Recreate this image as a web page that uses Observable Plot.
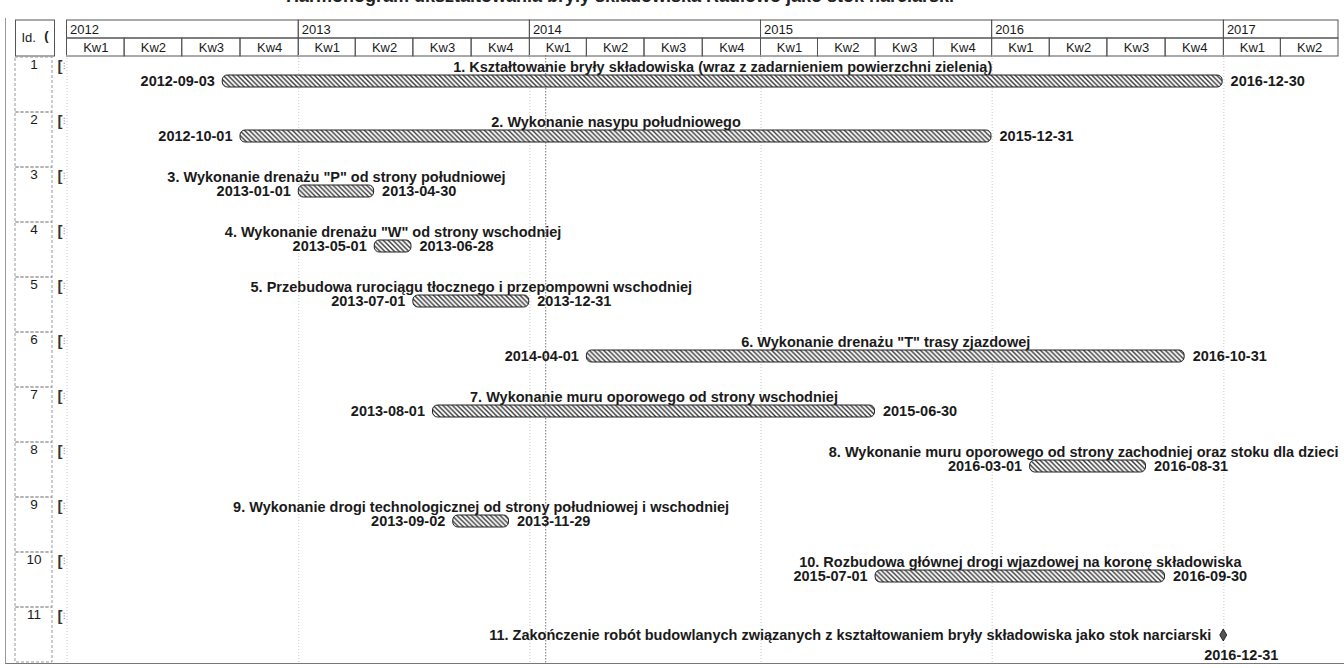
<!DOCTYPE html>
<html>
<head>
<meta charset="utf-8">
<script src="https://cdn.jsdelivr.net/npm/d3@7"></script>
<script src="https://cdn.jsdelivr.net/npm/@observablehq/plot@0.6"></script>
<style>
html,body{margin:0;padding:0;background:#fff;}
body{width:1344px;height:668px;overflow:hidden;position:relative;font-family:"Liberation Sans",Arial,sans-serif;}
#title{position:absolute;left:0;top:0;width:1344px;height:19px;overflow:hidden;}
#title span{position:absolute;left:0;width:1240px;text-align:center;top:-13px;font:bold 18px/18px "Liberation Sans",Arial,sans-serif;color:#222;white-space:nowrap;}
#frame{position:absolute;left:5px;top:18px;width:1339px;height:645px;border-left:1px solid #999;border-bottom:1px solid #777;box-sizing:content-box;}
.chart{position:absolute;}
</style>
</head>
<body>
<svg width="0" height="0" style="position:absolute">
  <defs>
    <pattern id="hatch" patternUnits="userSpaceOnUse" width="4.8" height="4.8">
      <rect width="4.8" height="4.8" fill="#fff"/>
      <path d="M-1.2,3.6 L1.2,6 M0,0 L4.8,4.8 M3.6,-1.2 L6,1.2" stroke="#333" stroke-width="1.4"/>
    </pattern>
  </defs>
</svg>
<div id="title"><span>Harmonogram ukształtowania bryły składowiska Radiowo jako stok narciarski</span></div>
<div id="frame"></div>
<div id="idHead" class="chart" style="left:0;top:19px"></div>
<div id="timeHead" class="chart" style="left:54px;top:19px"></div>
<div id="idBody" class="chart" style="left:0;top:55px"></div>
<div id="timeBody" class="chart" style="left:54px;top:55px"></div>
<script>
// ---------- data ----------
const taskIds = [1, 2, 3, 4, 5, 6, 7, 8, 9, 10];
const taskNames = [
  "1. Kształtowanie bryły składowiska (wraz z zadarnieniem powierzchni zielenią)",
  "2. Wykonanie nasypu południowego",
  "3. Wykonanie drenażu \"P\" od strony południowej",
  "4. Wykonanie drenażu \"W\" od strony wschodniej",
  "5. Przebudowa rurociągu tłocznego i przepompowni wschodniej",
  "6. Wykonanie drenażu \"T\" trasy zjazdowej",
  "7. Wykonanie muru oporowego od strony wschodniej",
  "8. Wykonanie muru oporowego od strony zachodniej oraz stoku dla dzieci",
  "9. Wykonanie drogi technologicznej od strony południowej i wschodniej",
  "10. Rozbudowa głównej drogi wjazdowej na koronę składowiska"
];
const taskStarts = ["2012-09-03", "2012-10-01", "2013-01-01", "2013-05-01", "2013-07-01",
                    "2014-04-01", "2013-08-01", "2016-03-01", "2013-09-02", "2015-07-01"];
const taskEnds   = ["2016-12-30", "2015-12-31", "2013-04-30", "2013-06-28", "2013-12-31",
                    "2016-10-31", "2015-06-30", "2016-08-31", "2013-11-29", "2016-09-30"];
const milestoneId = 11;
const milestoneName = "11. Zakończenie robót budowlanych związanych z kształtowaniem bryły składowiska jako stok narciarski";
const milestoneDate = "2016-12-31";
const rowIds = [1, 2, 3, 4, 5, 6, 7, 8, 9, 10, 11];
const years = [2012, 2013, 2014, 2015, 2016, 2017];
const quarterLabels = ["Kw1", "Kw2", "Kw3", "Kw4"];
const timelineStart = "2012-01-01";
const timelineEnd = "2017-07-01";
const statusDate = "2014-01-26";
const idHeader = "Id.";

// ---------- derived tables ----------
const parse = d3.utcParse("%Y-%m-%d");
const tEnd = parse(timelineEnd);
const tasks = taskIds.map((id, i) => ({
  id, name: taskNames[i],
  startLabel: taskStarts[i], endLabel: taskEnds[i],
  start: parse(taskStarts[i]), end: parse(taskEnds[i])
})).map(d => ({...d, mid: new Date((+d.start + +d.end) / 2)}));
const milestone = [{id: milestoneId, name: milestoneName, label: milestoneDate, date: parse(milestoneDate)}];
const yearCells = years.map(y => ({
  label: String(y), x1: new Date(Date.UTC(y, 0, 1)),
  x2: new Date(Math.min(Date.UTC(y + 1, 0, 1), +tEnd))
}));
const quarterCells = years.flatMap(y => quarterLabels.map((q, i) => ({
  label: q, x1: new Date(Date.UTC(y, 3 * i, 1)), x2: new Date(Date.UTC(y, 3 * i + 3, 1))
}))).filter(d => d.x1 < tEnd).map(d => ({...d, mid: new Date((+d.x1 + +d.x2) / 2)}));
const yearLines = years.map(y => new Date(Date.UTC(y, 0, 1)));

// ---------- styling ----------
const FONT = "Liberation Sans, Arial, sans-serif";
const INK = "#1a1a1a";
const LABEL_SIZE = 14.5;
const W = 1290, BODY_H = 608, HEAD_H = 37;
const xOpts = {type: "utc", domain: [parse(timelineStart), tEnd], range: [12.5, 1284], axis: null};
const style = {fontFamily: FONT, background: "transparent", overflow: "visible", color: INK};

// split labels: centred over bar unless it overflows the right edge
const xs = Plot.scale({x: xOpts});
const ctx = document.createElement("canvas").getContext("2d");
ctx.font = `bold ${LABEL_SIZE}px ${FONT}`;
const fits = d => xs.apply(d.mid) + ctx.measureText(d.name).width / 2 <= xOpts.range[1] + 2;
const centred = tasks.filter(fits);
const clamped = tasks.filter(d => !fits(d));

// ---------- header: Id cell ----------
document.getElementById("idHead").append(Plot.plot({
  width: 54, height: HEAD_H, marginLeft: 15, marginRight: 0, marginTop: 0.5, marginBottom: 0.5,
  style,
  marks: [
    Plot.frame({stroke: "#555"}),
    Plot.text([idHeader], {text: d => d, frameAnchor: "left", dx: 6, fontSize: 13, fill: INK}),
    Plot.text(["("], {text: d => d, frameAnchor: "right", dx: -6, dy: -2, fontSize: 13, fontWeight: "bold", fill: INK})
  ]
}));

// ---------- header: timescale ----------
document.getElementById("timeHead").append(Plot.plot({
  width: W, height: HEAD_H, marginLeft: 0, marginRight: 6, marginTop: 0.5, marginBottom: 0.5,
  style,
  x: xOpts,
  y: {domain: ["Y", "Q"], padding: 0, axis: null},
  marks: [
    Plot.barX(yearCells, {x1: "x1", x2: "x2", y: () => "Y", fill: "none", stroke: "#555", strokeWidth: 1}),
    Plot.barX(quarterCells, {x1: "x1", x2: "x2", y: () => "Q", fill: "none", stroke: "#555", strokeWidth: 1}),
    Plot.text(yearCells, {x: "x1", y: () => "Y", text: "label", textAnchor: "start", dx: 3, fontSize: 13, fill: INK}),
    Plot.text(quarterCells, {x: "mid", y: () => "Q", text: "label", fontSize: 13, fill: INK})
  ]
}));

// ---------- body: Id column ----------
document.getElementById("idBody").append(Plot.plot({
  width: 54, height: BODY_H, marginLeft: 15, marginRight: 2, marginTop: 0, marginBottom: 0,
  style,
  y: {domain: rowIds, padding: 0, axis: null},
  marks: [
    Plot.cell(rowIds, {y: d => d, fill: "none", stroke: "#999", strokeDasharray: "3,2"}),
    Plot.text(rowIds, {y: d => d, text: d => String(d), dy: -20.5, fontSize: 13.5, fill: INK})
  ]
}));

// ---------- body: Gantt ----------
document.getElementById("timeBody").append(Plot.plot({
  width: W, height: BODY_H, marginLeft: 0, marginRight: 6, marginTop: 0, marginBottom: 0,
  style,
  x: xOpts,
  y: {domain: rowIds, padding: 0, axis: null},
  marks: [
    Plot.ruleX(yearLines, {x: d => d, stroke: "#c8c8c8", strokeDasharray: "1,2"}),
    Plot.ruleX([parse(statusDate)], {x: d => d, stroke: "#777", strokeDasharray: "1.5,1.5"}),
    // indicator icons
    Plot.text(rowIds, {y: d => d, text: () => "[", frameAnchor: "left", dx: 3, dy: -18.5, fontSize: 15, fontWeight: "bold", fill: "#333"}),
    Plot.text(rowIds, {y: d => d, text: () => "⁝", frameAnchor: "left", dx: 8, dy: -18.5, fontSize: 9, fill: "#888"}),
    // bars
    Plot.barX(tasks, {x1: "start", x2: "end", y: "id", insetTop: 18, insetBottom: 25,
      fill: "url(#hatch)", stroke: "#222", strokeWidth: 1, rx: 5}),
    // task names
    Plot.text(centred, {x: "mid", y: "id", text: "name", dy: -17.5, fontSize: LABEL_SIZE, fontWeight: "bold", fill: INK}),
    Plot.text(clamped, {y: "id", text: "name", frameAnchor: "right", textAnchor: "end", dy: -17.5, fontSize: LABEL_SIZE, fontWeight: "bold", fill: INK}),
    // dates
    Plot.text(tasks, {x: "start", y: "id", text: "startLabel", textAnchor: "end", dx: -8, dy: -3.5, fontSize: LABEL_SIZE, fontWeight: "bold", fill: INK}),
    Plot.text(tasks, {x: "end", y: "id", text: "endLabel", textAnchor: "start", dx: 8, dy: -3.5, fontSize: LABEL_SIZE, fontWeight: "bold", fill: INK}),
    // milestone
    Plot.dot(milestone, {x: "date", y: "id", symbol: "diamond", r: 3.6, fill: "#555", stroke: "#222", strokeWidth: 1}),
    Plot.text(milestone, {x: "date", y: "id", text: "name", textAnchor: "end", dx: -12, fontSize: LABEL_SIZE, fontWeight: "bold", fill: INK}),
    Plot.text(milestone, {x: "date", y: "id", text: "label", textAnchor: "middle", dx: 18, dy: 20, fontSize: LABEL_SIZE, fontWeight: "bold", fill: INK})
  ]
}));
</script>
</body>
</html>
